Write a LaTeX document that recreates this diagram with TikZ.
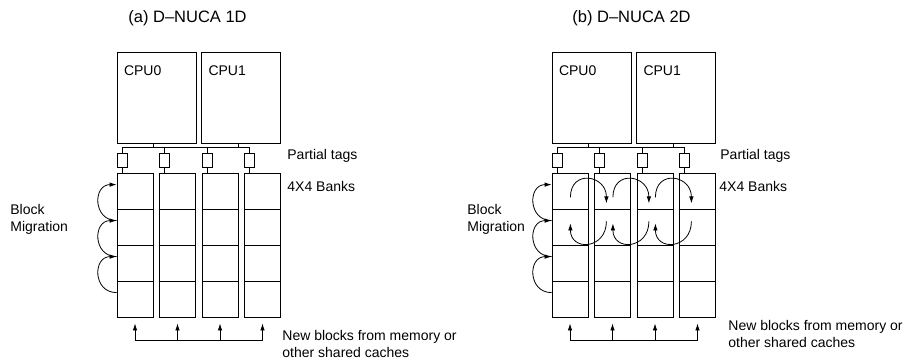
\documentclass[tikz,border=0pt]{standalone}
\usepackage{fontspec}
\setmainfont{Liberation Sans}
\usetikzlibrary{arrows.meta}

\begin{document}
\begin{tikzpicture}[x=1pt,y=1pt,line width=0.8pt,
    cpu/.style={draw,inner sep=0pt,minimum width=79pt,minimum height=91pt},
    cpulbl/.style={anchor=north west,inner sep=0pt,xshift=7pt,yshift=-14pt,font=\fontsize{14}{17}\selectfont},
    tag/.style={draw,inner sep=0pt,minimum width=10pt,minimum height=14pt},
    bank/.style={draw,inner sep=0pt,minimum size=36pt},
    txt/.style={anchor=west,inner sep=0pt,align=left,font=\fontsize{14}{17}\selectfont},
    ttl/.style={anchor=west,inner sep=0pt,font=\fontsize{16.5}{20}\selectfont},
    tip/.style={-{Latex[length=7pt,width=4.5pt]}}]
      \useasboundingbox (0,0) rectangle (907,360);%

      \node[ttl] (A-title) at (128,342) {(a) D–NUCA 1D};%
      \node[ttl] (B-title) at (572,342) {(b) D–NUCA 2D};%

      \node[cpu,label={[cpulbl]north west:CPU0}] (A-cpu0) at (156.5,262.5) {};%
      \node[cpu,label={[cpulbl]north west:CPU1}] (A-cpu1) at (241,262.5) {};%

      \node[tag] (A-t1) at (122,200) {};%
      \node[tag] (A-t2) at (164.5,200) {};%
      \node[tag] (A-t3) at (207,200) {};%
      \node[tag] (A-t4) at (249.5,200) {};%

      \node[bank] (A-b11) at (135,169) {};%
      \node[bank] (A-b12) at (177.5,169) {};%
      \node[bank] (A-b13) at (220,169) {};%
      \node[bank] (A-b14) at (262.5,169) {};%
      \node[bank] (A-b21) at (135,133) {};%
      \node[bank] (A-b22) at (177.5,133) {};%
      \node[bank] (A-b23) at (220,133) {};%
      \node[bank] (A-b24) at (262.5,133) {};%
      \node[bank] (A-b31) at (135,97) {};%
      \node[bank] (A-b32) at (177.5,97) {};%
      \node[bank] (A-b33) at (220,97) {};%
      \node[bank] (A-b34) at (262.5,97) {};%
      \node[bank] (A-b41) at (135,61) {};%
      \node[bank] (A-b42) at (177.5,61) {};%
      \node[bank] (A-b43) at (220,61) {};%
      \node[bank] (A-b44) at (262.5,61) {};%

      \coordinate (A-in1) at (135,20);%
      \coordinate (A-in2) at (177.5,20);%
      \coordinate (A-in3) at (220,20);%
      \coordinate (A-in4) at (262.5,20);%

      \node[txt] (A-ptags) at (287,204) {Partial tags};%
      \node[txt] (A-banks) at (287,174) {4X4 Banks};%
      \node[txt] (A-mig) at (10,141) {Block\\Migration};%
      \node[txt] (A-new) at (282,16.5) {New blocks from memory or\\other shared caches};%

      \draw (A-t1.north) -- ++(0,5) -| (A-t4.north);%
      \draw (A-t2.north) -- ++(0,5);%
      \draw (A-t3.north) -- ++(0,5);%
      \draw ([xshift=-3pt]A-cpu0.south) -- ++(0,-5);%
      \draw ([xshift=-3pt]A-cpu1.south) -- ++(0,-5);%

      \draw (A-t1.south) -- (A-t1.south |- A-b11.north);%
      \draw (A-t2.south) -- (A-t2.south |- A-b12.north);%
      \draw (A-t3.south) -- (A-t3.south |- A-b13.north);%
      \draw (A-t4.south) -- (A-t4.south |- A-b14.north);%

      \draw[tip] ([yshift=-12pt]A-b21.north west) to[out=180,in=180,looseness=1.7] ([yshift=-12pt]A-b11.north west);%
      \draw[tip] ([yshift=-12pt]A-b31.north west) to[out=180,in=180,looseness=1.7] ([yshift=-12pt]A-b21.north west);%
      \draw[tip] ([yshift=-12pt]A-b41.north west) to[out=180,in=180,looseness=1.7] ([yshift=-12pt]A-b31.north west);%

      \draw (A-in1) -- (A-in4);%
      \draw[tip,shorten >=6pt] (A-in1) -- (A-b41);%
      \draw[tip,shorten >=6pt] (A-in2) -- (A-b42);%
      \draw[tip,shorten >=6pt] (A-in3) -- (A-b43);%
      \draw[tip,shorten >=6pt] (A-in4) -- (A-b44);%

      \node[cpu,label={[cpulbl]north west:CPU0}] (B-cpu0) at (591.5,262.5) {};%
      \node[cpu,label={[cpulbl]north west:CPU1}] (B-cpu1) at (676,262.5) {};%

      \node[tag] (B-t1) at (557,200) {};%
      \node[tag] (B-t2) at (599.5,200) {};%
      \node[tag] (B-t3) at (642,200) {};%
      \node[tag] (B-t4) at (684.5,200) {};%

      \node[bank] (B-b11) at (570,169) {};%
      \node[bank] (B-b12) at (612.5,169) {};%
      \node[bank] (B-b13) at (655,169) {};%
      \node[bank] (B-b14) at (697.5,169) {};%
      \node[bank] (B-b21) at (570,133) {};%
      \node[bank] (B-b22) at (612.5,133) {};%
      \node[bank] (B-b23) at (655,133) {};%
      \node[bank] (B-b24) at (697.5,133) {};%
      \node[bank] (B-b31) at (570,97) {};%
      \node[bank] (B-b32) at (612.5,97) {};%
      \node[bank] (B-b33) at (655,97) {};%
      \node[bank] (B-b34) at (697.5,97) {};%
      \node[bank] (B-b41) at (570,61) {};%
      \node[bank] (B-b42) at (612.5,61) {};%
      \node[bank] (B-b43) at (655,61) {};%
      \node[bank] (B-b44) at (697.5,61) {};%

      \coordinate (B-in1) at (570,20);%
      \coordinate (B-in2) at (612.5,20);%
      \coordinate (B-in3) at (655,20);%
      \coordinate (B-in4) at (697.5,20);%

      \coordinate (B-r1) at (B-b11.south east);%
      \coordinate (B-r2) at (B-b12.south east);%
      \coordinate (B-r3) at (B-b13.south east);%

      \node[txt] (B-ptags) at (720,204) {Partial tags};%
      \node[txt] (B-banks) at (719,174) {4X4 Banks};%
      \node[txt] (B-mig) at (467,141) {Block\\Migration};%
      \node[txt] (B-new) at (728,26.5) {New blocks from memory or\\other shared caches};%

      \draw (B-t1.north) -- ++(0,5) -| (B-t4.north);%
      \draw (B-t2.north) -- ++(0,5);%
      \draw (B-t3.north) -- ++(0,5);%
      \draw ([xshift=-3pt]B-cpu0.south) -- ++(0,-5);%
      \draw ([xshift=-3pt]B-cpu1.south) -- ++(0,-5);%

      \draw (B-t1.south) -- (B-t1.south |- B-b11.north);%
      \draw (B-t2.south) -- (B-t2.south |- B-b12.north);%
      \draw (B-t3.south) -- (B-t3.south |- B-b13.north);%
      \draw (B-t4.south) -- (B-t4.south |- B-b14.north);%

      \draw[tip] ([yshift=-12pt]B-b21.north west) to[out=180,in=180,looseness=1.7] ([yshift=-12pt]B-b11.north west);%
      \draw[tip] ([yshift=-12pt]B-b31.north west) to[out=180,in=180,looseness=1.7] ([yshift=-12pt]B-b21.north west);%
      \draw[tip] ([yshift=-12pt]B-b41.north west) to[out=180,in=180,looseness=1.7] ([yshift=-12pt]B-b31.north west);%

      \draw[tip] ([shift={(-18pt,12pt)}]B-r1) to[out=90,in=90,looseness=2] ([shift={(18pt,6pt)}]B-r1);%
      \draw[tip] ([shift={(18pt,-12pt)}]B-r1) to[out=-90,in=-90,looseness=2] ([shift={(-18pt,-14pt)}]B-r1);%
      \draw[tip] ([shift={(-18pt,12pt)}]B-r2) to[out=90,in=90,looseness=2] ([shift={(18pt,6pt)}]B-r2);%
      \draw[tip] ([shift={(18pt,-12pt)}]B-r2) to[out=-90,in=-90,looseness=2] ([shift={(-18pt,-14pt)}]B-r2);%
      \draw[tip] ([shift={(-18pt,12pt)}]B-r3) to[out=90,in=90,looseness=2] ([shift={(18pt,6pt)}]B-r3);%
      \draw[tip] ([shift={(18pt,-12pt)}]B-r3) to[out=-90,in=-90,looseness=2] ([shift={(-18pt,-14pt)}]B-r3);%

      \draw (B-in1) -- (B-in4);%
      \draw[tip,shorten >=6pt] (B-in1) -- (B-b41);%
      \draw[tip,shorten >=6pt] (B-in2) -- (B-b42);%
      \draw[tip,shorten >=6pt] (B-in3) -- (B-b43);%
      \draw[tip,shorten >=6pt] (B-in4) -- (B-b44);%
    \end{tikzpicture}
\end{document}
